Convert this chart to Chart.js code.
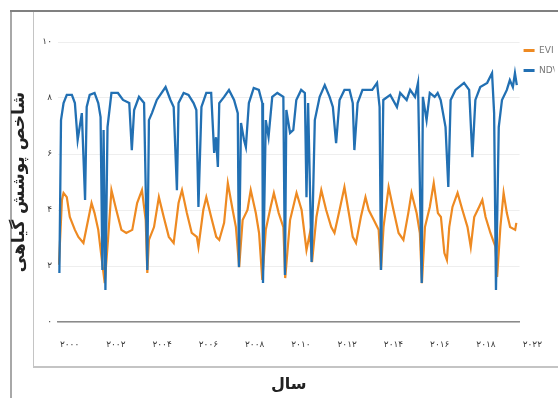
<!DOCTYPE html>
<html>
<head>
<meta charset="utf-8">
<script src="https://cdn.jsdelivr.net/npm/chart.js@4.4.1/dist/chart.umd.min.js"></script>
<style>
  html, body { margin: 0; padding: 0; background: #ffffff; overflow: hidden; }
  #wrap { position: relative; width: 558px; height: 398px; }
  .ln { position: absolute; }
  #outerV { left: 10px; top: 10px; width: 0; height: 388px; border-left: 2px solid #a8a8a8; }
  #outerT { left: 10px; top: 10px; width: 548px; height: 0; border-top: 2px solid #808080; }
  #innerB { left: 33px; top: 12px; width: 530px; height: 354px; border-left: 1px solid #c4c4c4; border-bottom: 2px solid #c4c4c4; }
  canvas { position: absolute; left: 0; top: 0; }
</style>
</head>
<body>
<div id="wrap">
  <div class="ln" id="outerV"></div>
  <div class="ln" id="outerT"></div>
  <div class="ln" id="innerB"></div>
  <canvas id="c" width="558" height="398"></canvas>
</div>
<script>
// ---- data (decimal year, index value) ----
const seriesNames = ['EVI', 'NDVI'];

const eviYears = [1999.54,1999.67,1999.74,1999.88,2000.01,2000.23,2000.38,2000.60,2000.74,2000.95,2001.08,2001.24,2001.38,2001.52,2001.67,2001.81,2002.02,2002.24,2002.45,2002.71,2002.92,2003.13,2003.29,2003.36,2003.43,2003.65,2003.86,2004.07,2004.29,2004.50,2004.71,2004.86,2005.07,2005.28,2005.50,2005.57,2005.78,2005.91,2006.12,2006.34,2006.47,2006.68,2006.84,2007.05,2007.19,2007.33,2007.48,2007.69,2007.83,2008.05,2008.19,2008.33,2008.48,2008.69,2008.83,2009.04,2009.24,2009.32,2009.53,2009.81,2010.03,2010.17,2010.24,2010.39,2010.48,2010.67,2010.88,2011.09,2011.31,2011.45,2011.67,2011.88,2012.10,2012.24,2012.38,2012.59,2012.79,2012.93,2013.15,2013.36,2013.46,2013.57,2013.79,2014.00,2014.22,2014.43,2014.64,2014.78,2015.00,2015.14,2015.23,2015.36,2015.57,2015.74,2015.92,2016.05,2016.20,2016.31,2016.41,2016.55,2016.77,2016.98,2017.20,2017.34,2017.49,2017.70,2017.84,2017.98,2018.19,2018.41,2018.48,2018.62,2018.76,2018.90,2019.04,2019.26,2019.31];
const eviValues = [2.04,4.36,4.61,4.46,3.75,3.29,3.04,2.82,3.39,4.25,3.89,3.29,2.32,1.39,3.04,4.71,4.00,3.29,3.18,3.29,4.25,4.71,3.64,1.75,2.93,3.39,4.46,3.75,3.04,2.82,4.25,4.71,3.89,3.18,3.04,2.68,4.00,4.46,3.75,3.04,2.93,3.54,4.96,4.00,3.39,1.96,3.64,4.00,4.71,3.89,3.18,1.50,3.29,4.11,4.61,3.89,3.39,1.57,3.64,4.61,4.00,3.04,2.57,3.18,2.14,3.75,4.71,4.00,3.39,3.18,4.00,4.82,3.75,3.04,2.82,3.75,4.46,4.00,3.64,3.29,1.86,3.39,4.82,4.00,3.18,2.93,3.89,4.61,3.89,3.18,1.39,3.39,4.11,4.96,3.89,3.75,2.46,2.21,3.39,4.11,4.61,4.00,3.39,2.68,3.75,4.11,4.36,3.75,3.18,2.68,1.61,3.39,4.61,3.89,3.39,3.29,3.54];

const ndviYears = [1999.56,1999.63,1999.74,1999.88,2000.10,2000.23,2000.35,2000.53,2000.67,2000.74,2000.87,2001.08,2001.24,2001.34,2001.42,2001.47,2001.55,2001.64,2001.81,2002.09,2002.31,2002.58,2002.69,2002.79,2003.00,2003.22,2003.36,2003.43,2003.56,2003.77,2004.15,2004.36,2004.50,2004.64,2004.71,2004.93,2005.14,2005.36,2005.48,2005.57,2005.70,2005.91,2006.12,2006.25,2006.33,2006.41,2006.47,2006.68,2006.89,2007.11,2007.27,2007.32,2007.41,2007.54,2007.62,2007.75,2007.96,2008.18,2008.33,2008.36,2008.48,2008.60,2008.76,2008.98,2009.24,2009.31,2009.37,2009.53,2009.67,2009.80,2010.01,2010.17,2010.24,2010.31,2010.46,2010.60,2010.81,2011.03,2011.24,2011.38,2011.52,2011.67,2011.88,2012.10,2012.24,2012.31,2012.45,2012.66,2012.79,2013.08,2013.29,2013.40,2013.46,2013.56,2013.86,2014.15,2014.29,2014.57,2014.72,2014.93,2015.06,2015.22,2015.27,2015.43,2015.57,2015.78,2015.91,2016.04,2016.25,2016.37,2016.47,2016.68,2017.05,2017.27,2017.41,2017.54,2017.75,2018.05,2018.26,2018.35,2018.43,2018.55,2018.69,2018.90,2019.03,2019.16,2019.25,2019.33];
const ndviValues = [1.75,7.21,7.82,8.11,8.11,7.82,6.50,7.46,4.36,7.68,8.11,8.18,7.82,7.32,1.86,6.86,1.14,6.96,8.18,8.18,7.93,7.82,6.14,7.57,8.04,7.82,1.86,7.21,7.46,7.93,8.39,7.93,7.68,4.71,7.82,8.18,8.11,7.82,7.57,4.11,7.68,8.18,8.18,6.04,6.60,5.54,7.82,8.04,8.29,7.93,7.46,1.96,7.11,6.50,6.25,7.82,8.36,8.29,7.82,1.39,7.21,6.61,8.04,8.18,8.04,1.68,7.57,6.75,6.86,7.93,8.29,8.18,4.46,7.82,2.14,7.21,8.04,8.46,8.04,7.68,6.39,7.93,8.29,8.29,7.82,6.14,7.82,8.29,8.29,8.29,8.54,7.68,1.86,7.93,8.11,7.68,8.18,7.93,8.29,8.04,8.54,1.39,8.04,7.21,8.18,8.04,8.18,7.93,6.96,4.82,7.93,8.29,8.54,8.29,5.89,7.93,8.39,8.54,8.89,7.46,1.14,6.96,7.93,8.29,8.64,8.39,8.89,8.46];

const xTickYears  = [2000,2002,2004,2006,2008,2010,2012,2014,2016,2018,2020];
const xTickLabels = ['۲۰۰۰','۲۰۰۲','۲۰۰۴','۲۰۰۶','۲۰۰۸','۲۰۱۰','۲۰۱۲','۲۰۱۴','۲۰۱۶','۲۰۱۸','۲۰۲۲'];
const yTickValues = [0,2,4,6,8,10];
const yTickLabels = ['۰','۲','۴','۶','۸','۱۰'];
const xTitle = 'سال';
const yTitle = 'شاخص پوشش گیاهی';

// ---- chart ----
const toPoints = (xs, ys) => xs.map((x, i) => ({ x: x, y: ys[i] }));
const ORANGE = '#ee8a22';
const BLUE = '#2270b3';

Chart.defaults.font.family = "'DejaVu Sans', sans-serif";

new Chart(document.getElementById('c'), {
  type: 'line',
  data: {
    datasets: [
      { label: seriesNames[0], data: toPoints(eviYears, eviValues), borderColor: ORANGE, backgroundColor: ORANGE,
        borderWidth: 2.2, pointRadius: 0, tension: 0, fill: false, order: 1 },
      { label: seriesNames[1], data: toPoints(ndviYears, ndviValues), borderColor: BLUE, backgroundColor: BLUE,
        borderWidth: 2.3, pointRadius: 0, tension: 0, fill: false, order: 0 }
    ]
  },
  options: {
    responsive: false,
    animation: false,
    events: [],
    layout: { padding: { left: 9, top: 42, right: 0, bottom: 4 } },
    plugins: {
      tooltip: { enabled: false },
      legend: {
        position: 'right',
        align: 'start',
        maxWidth: 35,
        labels: {
          boxWidth: 11,
          boxHeight: 3,
          padding: 4,
          color: '#777777',
          font: { size: 9, lineHeight: '16px' },
          sort: (a, b) => a.datasetIndex - b.datasetIndex,
          generateLabels: (chart) => {
            const items = Chart.defaults.plugins.legend.labels.generateLabels(chart);
            items.forEach(it => { it.text = [it.text]; it.lineWidth = 0; });
            return items;
          }
        }
      }
    },
    scales: {
      x: {
        type: 'linear',
        min: 1999.5,
        max: 2019.45,
        afterBuildTicks: (scale) => { scale.ticks = xTickYears.map(v => ({ value: v })); },
        afterFit: (scale) => { scale.height = 72; },
        grid: { display: false, drawTicks: false },
        border: { display: true, color: '#8a8a8a', width: 1.5 },
        ticks: {
          autoSkip: false,
          maxRotation: 0,
          padding: 17,
          color: '#3a3a3a',
          font: { size: 9 },
          callback: (v) => { const i = xTickYears.indexOf(v); return i >= 0 ? xTickLabels[i] : ''; }
        },
        title: { display: true, text: xTitle, color: '#222222', font: { size: 16, weight: 'bold' }, padding: { top: 0, bottom: 0 } }
      },
      y: {
        min: 0,
        max: 10,
        afterBuildTicks: (scale) => { scale.ticks = yTickValues.map(v => ({ value: v })); },
        afterFit: (scale) => { scale.width = 49; },
        grid: { color: '#eeeeee', drawTicks: false },
        border: { display: false },
        ticks: {
          padding: 6,
          color: '#3a3a3a',
          font: { size: 9 },
          callback: (v) => { const i = yTickValues.indexOf(v); return i >= 0 ? yTickLabels[i] : ''; }
        },
        title: { display: true, text: yTitle, color: '#222222', font: { size: 17, weight: 'bold' }, padding: { top: 0, bottom: 0 } }
      }
    }
  }
});
</script>
</body>
</html>
